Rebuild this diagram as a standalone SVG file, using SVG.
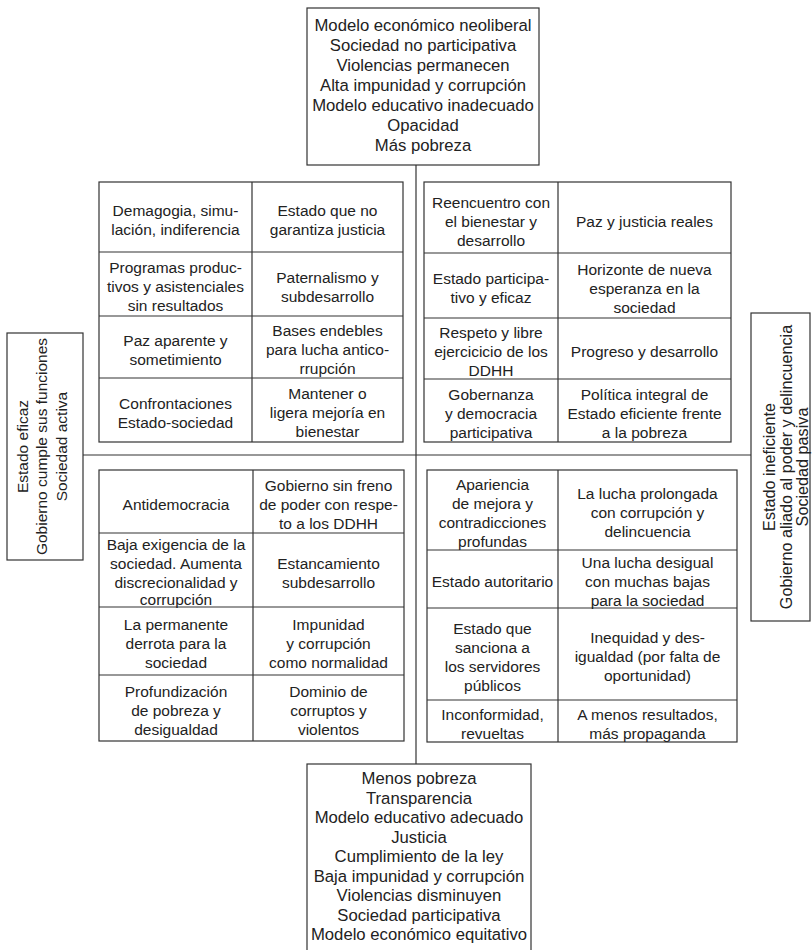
<svg xmlns="http://www.w3.org/2000/svg" width="812" height="950" viewBox="0 0 812 950">
<style>
.bx{fill:none;stroke:#333;stroke-width:1.2}
.ln{fill:none;stroke:#333;stroke-width:1.2}
.t{font-family:'Liberation Sans',Arial,sans-serif;font-size:15.5px;fill:#222;text-anchor:middle}
.h{font-family:'Liberation Sans',Arial,sans-serif;font-size:16.7px;fill:#222;text-anchor:middle}
.r{font-family:'Liberation Sans',Arial,sans-serif;font-size:16.2px;fill:#222;text-anchor:middle}
</style>
<rect width="812" height="950" fill="#fff"/>
<g id="connectors">
<line class="ln" x1="416" y1="165" x2="416" y2="764"/>
<line class="ln" x1="83" y1="455" x2="751" y2="455"/>
</g>
<g id="top">
<rect class="bx" x="307" y="8" width="232" height="157" fill="#fff"/>
<text class="h" x="423" y="31">Modelo económico neoliberal</text>
<text class="h" x="423" y="51">Sociedad no participativa</text>
<text class="h" x="423" y="71">Violencias permanecen</text>
<text class="h" x="423" y="91">Alta impunidad y corrupción</text>
<text class="h" x="423" y="111">Modelo educativo inadecuado</text>
<text class="h" x="423" y="131">Opacidad</text>
<text class="h" x="423" y="151">Más pobreza</text>
</g>
<g id="bottom">
<rect class="bx" x="307" y="764" width="224" height="190" fill="#fff"/>
<text class="h" x="419" y="784">Menos pobreza</text>
<text class="h" x="419" y="803.5">Transparencia</text>
<text class="h" x="419" y="823">Modelo educativo adecuado</text>
<text class="h" x="419" y="842.5">Justicia</text>
<text class="h" x="419" y="862">Cumplimiento de la ley</text>
<text class="h" x="419" y="881.5">Baja impunidad y corrupción</text>
<text class="h" x="419" y="901">Violencias disminuyen</text>
<text class="h" x="419" y="920.5">Sociedad participativa</text>
<text class="h" x="419" y="940">Modelo económico equitativo</text>
</g>
<g id="left">
<rect class="bx" x="7" y="333" width="76" height="227" fill="#fff"/>
<g transform="translate(0,446.5) rotate(-90)">
<text class="t" x="0" y="28">Estado eficaz</text>
<text class="t" x="0" y="47">Gobierno cumple sus funciones</text>
<text class="t" x="0" y="67">Sociedad activa</text>
</g>
</g>
<g id="right">
<rect class="bx" x="751" y="313" width="59" height="308" fill="#fff"/>
<g transform="translate(0,467) rotate(-90)">
<text class="r" x="0" y="775">Estado ineficiente</text>
<text class="r" x="0" y="792">Gobierno aliado al poder y delincuencia</text>
<text class="r" x="0" y="808">Sociedad pasiva</text>
</g>
</g>
<g id="table-top-left">
<rect class="bx" x="99" y="182" width="304" height="260"/>
<path class="ln" d="M252 182V442M99 252H403M99 316H403M99 378H403"/>
<text class="t" x="175.5" y="215.5">Demagogia, simu-</text>
<text class="t" x="175.5" y="234.5">lación, indiferencia</text>
<text class="t" x="327.5" y="215.5">Estado que no</text>
<text class="t" x="327.5" y="234.5">garantiza justicia</text>
<text class="t" x="175.5" y="273">Programas produc-</text>
<text class="t" x="175.5" y="292">tivos y asistenciales</text>
<text class="t" x="175.5" y="311">sin resultados</text>
<text class="t" x="327.5" y="282.5">Paternalismo y</text>
<text class="t" x="327.5" y="301.5">subdesarrollo</text>
<text class="t" x="175.5" y="345.5">Paz aparente y</text>
<text class="t" x="175.5" y="364.5">sometimiento</text>
<text class="t" x="327.5" y="336">Bases endebles</text>
<text class="t" x="327.5" y="355">para lucha antico-</text>
<text class="t" x="327.5" y="374">rrupción</text>
<text class="t" x="175.5" y="408.5">Confrontaciones</text>
<text class="t" x="175.5" y="427.5">Estado-sociedad</text>
<text class="t" x="327.5" y="399">Mantener o</text>
<text class="t" x="327.5" y="418">ligera mejoría en</text>
<text class="t" x="327.5" y="437">bienestar</text>
</g>
<g id="table-top-right">
<rect class="bx" x="424" y="182" width="307" height="260"/>
<path class="ln" d="M558 182V442M424 253H731M424 318H731M424 379H731"/>
<text class="t" x="491" y="207.5">Reencuentro con</text>
<text class="t" x="491" y="226.5">el bienestar y</text>
<text class="t" x="491" y="245.5">desarrollo</text>
<text class="t" x="644.5" y="226.5">Paz y justicia reales</text>
<text class="t" x="491" y="284">Estado participa-</text>
<text class="t" x="491" y="303">tivo y eficaz</text>
<text class="t" x="644.5" y="274.5">Horizonte de nueva</text>
<text class="t" x="644.5" y="293.5">esperanza en la</text>
<text class="t" x="644.5" y="312.5">sociedad</text>
<text class="t" x="491" y="337.5">Respeto y libre</text>
<text class="t" x="491" y="356.5">ejercicicio de los</text>
<text class="t" x="491" y="375.5">DDHH</text>
<text class="t" x="644.5" y="356.5">Progreso y desarrollo</text>
<text class="t" x="491" y="399.5">Gobernanza</text>
<text class="t" x="491" y="418.5">y democracia</text>
<text class="t" x="491" y="437.5">participativa</text>
<text class="t" x="644.5" y="399.5">Política integral de</text>
<text class="t" x="644.5" y="418.5">Estado eficiente frente</text>
<text class="t" x="644.5" y="437.5">a la pobreza</text>
</g>
<g id="table-bottom-left">
<rect class="bx" x="99" y="470" width="305" height="271"/>
<path class="ln" d="M253 470V741M99 533H404M99 607H404M99 675H404"/>
<text class="t" x="176" y="509.5">Antidemocracia</text>
<text class="t" x="328.5" y="490.5">Gobierno sin freno</text>
<text class="t" x="328.5" y="509.5">de poder con respe-</text>
<text class="t" x="328.5" y="528.5">to a los DDHH</text>
<text class="t" x="176" y="550">Baja exigencia de la</text>
<text class="t" x="176" y="569">sociedad. Aumenta</text>
<text class="t" x="176" y="588">discrecionalidad y</text>
<text class="t" x="176" y="605">corrupción</text>
<text class="t" x="328.5" y="568.5">Estancamiento</text>
<text class="t" x="328.5" y="587.5">subdesarrollo</text>
<text class="t" x="176" y="630">La permanente</text>
<text class="t" x="176" y="649">derrota para la</text>
<text class="t" x="176" y="668">sociedad</text>
<text class="t" x="328.5" y="630">Impunidad</text>
<text class="t" x="328.5" y="649">y corrupción</text>
<text class="t" x="328.5" y="668">como normalidad</text>
<text class="t" x="176" y="697">Profundización</text>
<text class="t" x="176" y="716">de pobreza y</text>
<text class="t" x="176" y="735">desigualdad</text>
<text class="t" x="328.5" y="697">Dominio de</text>
<text class="t" x="328.5" y="716">corruptos y</text>
<text class="t" x="328.5" y="735">violentos</text>
</g>
<g id="table-bottom-right">
<rect class="bx" x="427" y="470" width="310" height="272"/>
<path class="ln" d="M558 470V742M427 550H737M427 608H737M427 700H737"/>
<text class="t" x="492.5" y="489.5">Apariencia</text>
<text class="t" x="492.5" y="508.5">de mejora y</text>
<text class="t" x="492.5" y="527.5">contradicciones</text>
<text class="t" x="492.5" y="546.5">profundas</text>
<text class="t" x="647.5" y="499">La lucha prolongada</text>
<text class="t" x="647.5" y="518">con corrupción y</text>
<text class="t" x="647.5" y="537">delincuencia</text>
<text class="t" x="492.5" y="587">Estado autoritario</text>
<text class="t" x="647.5" y="568">Una lucha desigual</text>
<text class="t" x="647.5" y="587">con muchas bajas</text>
<text class="t" x="647.5" y="606">para la sociedad</text>
<text class="t" x="492.5" y="633.5">Estado que</text>
<text class="t" x="492.5" y="652.5">sanciona a</text>
<text class="t" x="492.5" y="671.5">los servidores</text>
<text class="t" x="492.5" y="690.5">públicos</text>
<text class="t" x="647.5" y="643">Inequidad y des-</text>
<text class="t" x="647.5" y="662">igualdad (por falta de</text>
<text class="t" x="647.5" y="681">oportunidad)</text>
<text class="t" x="492.5" y="719.5">Inconformidad,</text>
<text class="t" x="492.5" y="738.5">revueltas</text>
<text class="t" x="647.5" y="719.5">A menos resultados,</text>
<text class="t" x="647.5" y="738.5">más propaganda</text>
</g>
</svg>
